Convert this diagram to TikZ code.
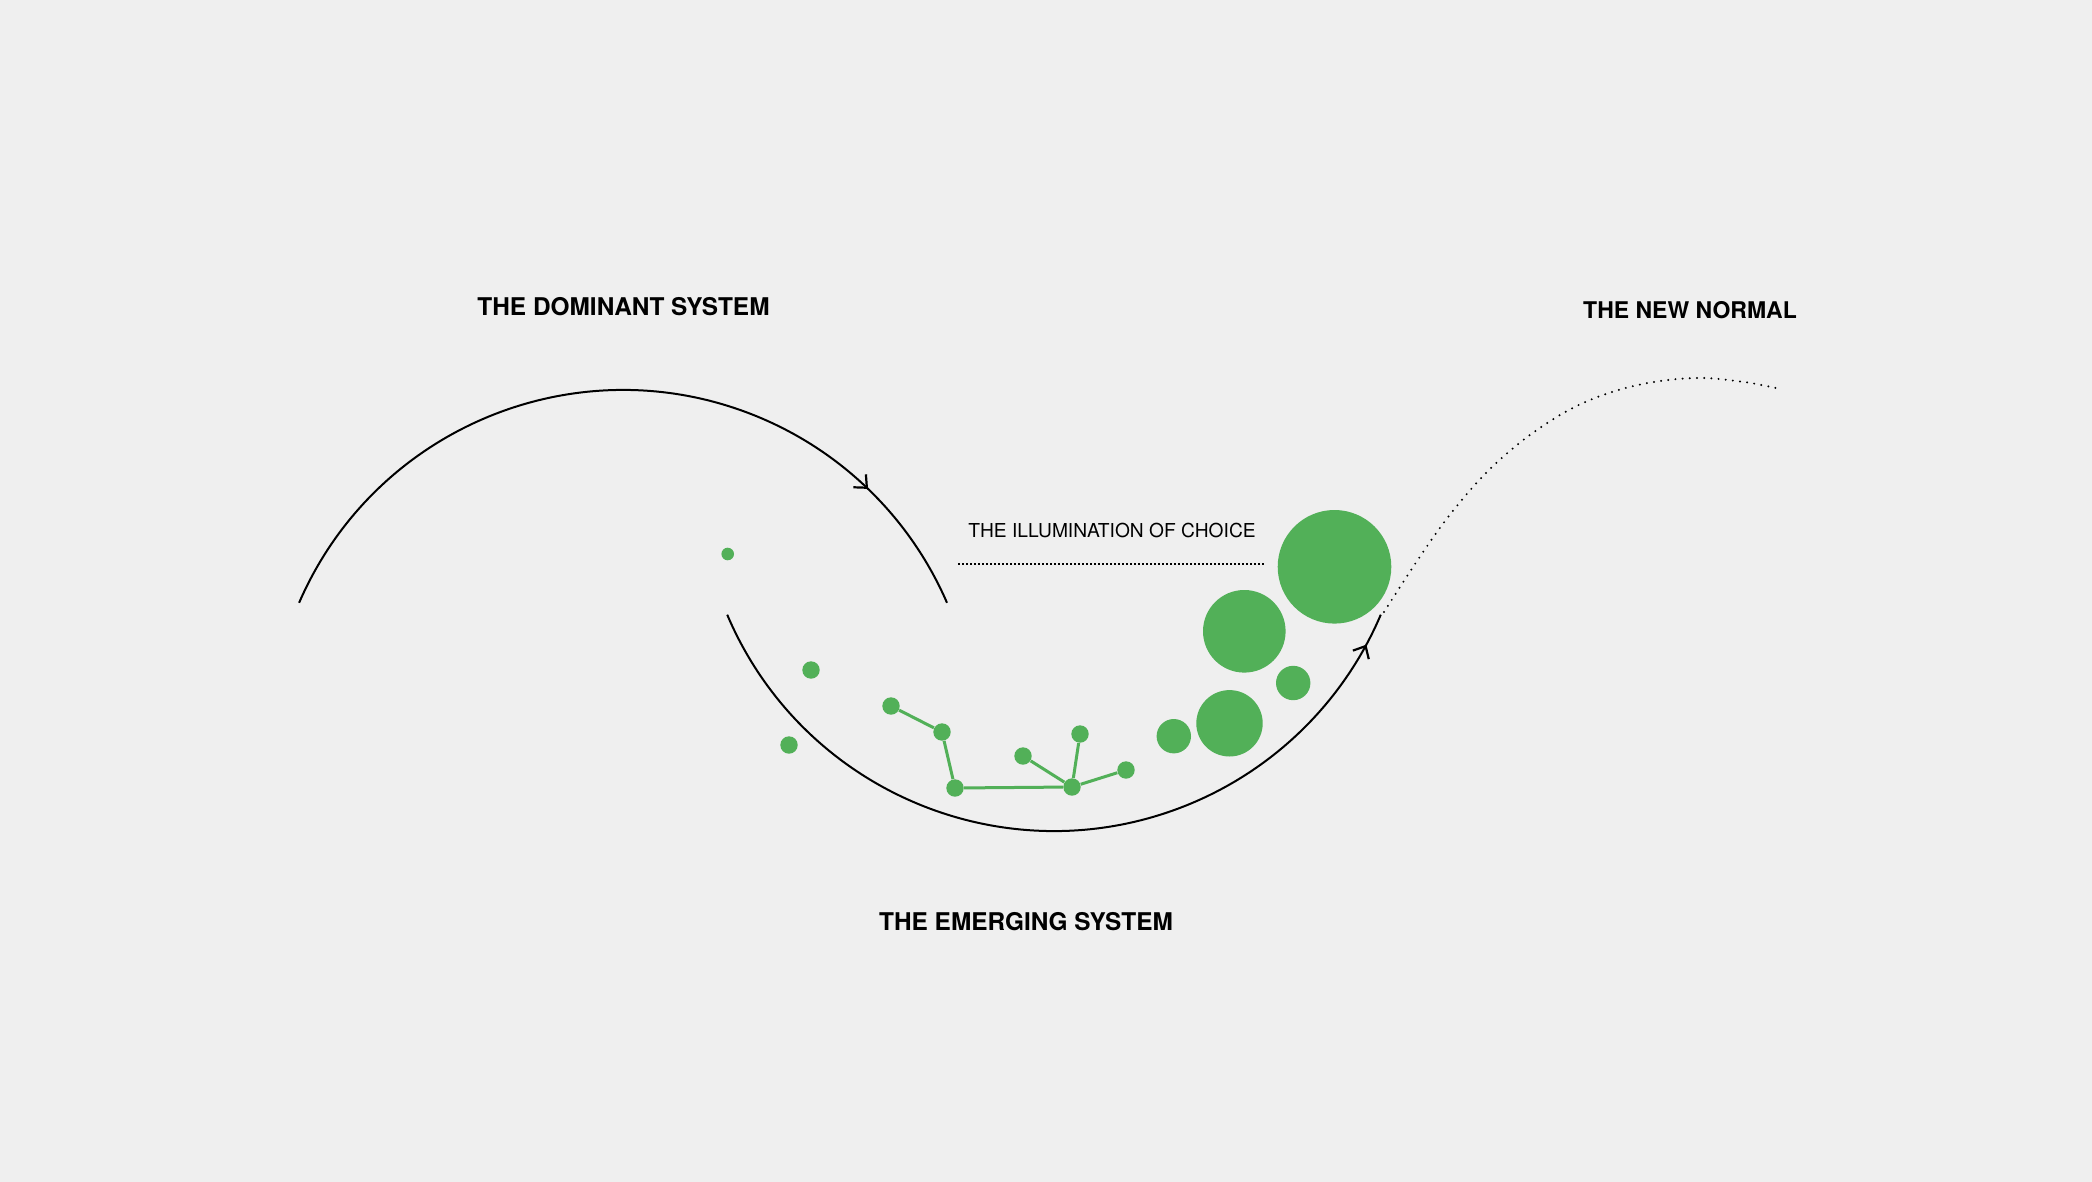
\documentclass[tikz,border=0pt]{standalone}
\usepackage{fontspec}
\setmainfont{TeX Gyre Heros}
\usetikzlibrary{arrows.meta,decorations.markings}
\definecolor{bg}{RGB}{239,239,239}
\definecolor{leaf}{RGB}{82,176,88}
\tikzset{
  flow/.style={line width=1pt, black},
  barb/.tip={Straight Barb[length=5pt,width=9pt,line width=1.1pt]},
  dotpath/.style={line width=1.1pt, line cap=round, dash pattern=on 0pt off 3.6pt},
  dotline/.style={line width=1.1pt, dash pattern=on 1pt off 1pt},
  seed/.style={circle, fill=leaf, inner sep=0pt, minimum size=#1},
  seed/.default=8.7pt,
  link/.style={leaf, line width=1.5pt},
  title/.style={inner sep=0pt, anchor=base, font=\bfseries\fontsize{12.2}{14}\selectfont},
  caption/.style={inner sep=0pt, anchor=base, font=\fontsize{9.6}{11}\selectfont},
}
\begin{document}
\begin{tikzpicture}[x=0.5pt,y=-0.5pt]
\fill[bg] (0,0) rectangle (2092,1182);
\useasboundingbox (0,0) rectangle (2092,1182);

% dominant system arc
\coordinate (domstart) at (299.1,602.8);
\draw[flow, decoration={markings, mark=at position 0.83 with {\arrow{barb}}}, postaction=decorate]
  (domstart) arc[start angle=156.6, end angle=23.4, radius=176.5pt];

% emerging system arc
\coordinate (emgstart) at (727.2,614.7);
\draw[flow, decoration={markings, mark=at position 0.96 with {\arrow{barb}}}, postaction=decorate]
  (emgstart) arc[start angle=203, end angle=337, radius=177.5pt];

% new normal dotted continuation
\draw[dotpath] plot[smooth, tension=0.6] coordinates {(1384,612) (1419,558) (1452,512) (1490,469) (1534,432) (1583,403) (1638,385) (1695,378) (1744,382) (1780,389)};

% labels
\node[title] (dom) at (623.5,315) {THE DOMINANT SYSTEM};
\node[title, font=\bfseries\fontsize{11.5}{13}\selectfont] (new) at (1690,318) {THE NEW NORMAL};
\node[title] (emg) at (1026,930) {THE EMERGING SYSTEM};
\node[caption] (ill) at (1112,537) {THE ILLUMINATION OF CHOICE};

\coordinate (dl1) at (958,564);
\coordinate (dl2) at (1265,564);
\draw[dotline] (dl1) -- (dl2);

% scattered seeds
\node[seed=6.3pt] (s0) at (727.7,554) {};
\node[seed] (s1) at (811,670) {};
\node[seed] (s2) at (789,745) {};

% network
\node[seed] (n1) at (891,706) {};
\node[seed] (n2) at (942,732) {};
\node[seed] (n3) at (955,788) {};
\node[seed] (n4) at (1072,787) {};
\node[seed] (n5) at (1023,756) {};
\node[seed] (n6) at (1080,734) {};
\node[seed] (n7) at (1126,770) {};
\draw[link] (n1) -- (n2);
\draw[link] (n2) -- (n3);
\draw[link] (n3) -- (n4);
\draw[link] (n4) -- (n5);
\draw[link] (n4) -- (n6);
\draw[link] (n4) -- (n7);

% growing circles
\node[seed=17.2pt] (c1) at (1173.8,736.2) {};
\node[seed=33.2pt] (c2) at (1229.5,723.3) {};
\node[seed=17.2pt] (c3) at (1293.2,683) {};
\node[seed=41.3pt] (c4) at (1244.3,631.3) {};
\node[seed=56.8pt] (c5) at (1334.5,566.8) {};
\end{tikzpicture}
\end{document}
